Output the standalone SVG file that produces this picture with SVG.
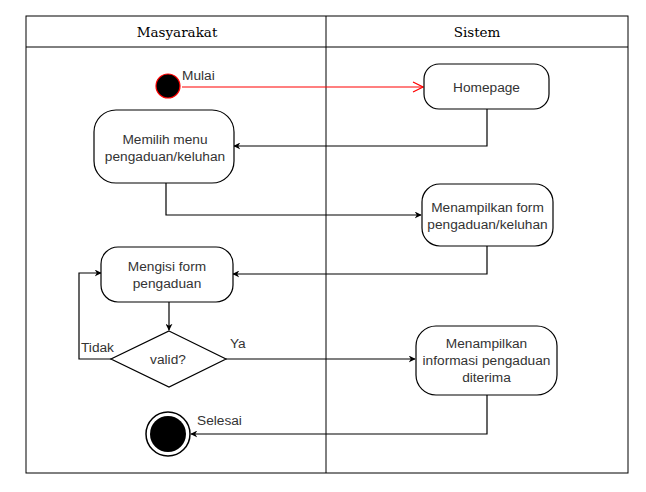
<svg xmlns="http://www.w3.org/2000/svg" width="646" height="492" viewBox="0 0 646 492">
<defs>
<marker id="ab" viewBox="0 0 10 10" refX="9" refY="5" markerWidth="7" markerHeight="7" markerUnits="userSpaceOnUse" orient="auto">
<path d="M0,0 L10,5 L0,10 L3,5 Z" fill="#000"/>
</marker>
<marker id="ao" viewBox="0 0 12 12" refX="11" refY="6" markerWidth="12" markerHeight="12" markerUnits="userSpaceOnUse" orient="auto">
<path d="M1,1 L11,6 L1,11" fill="none" stroke="#ff0000" stroke-width="1.2"/>
</marker>
</defs>
<style>
.frame{fill:none;stroke:#000;stroke-width:1}
.hdr{font-family:"DejaVu Serif","Liberation Serif",serif;font-size:13.5px;fill:#000;text-anchor:middle}
.node{fill:#fff;stroke:#000;stroke-width:1.2}
.t{font-family:"Liberation Sans",Arial,sans-serif;font-size:13.7px;fill:#333;text-anchor:middle}
.lbl{font-family:"Liberation Sans",Arial,sans-serif;font-size:13.7px;fill:#333}
.c{fill:none;stroke:#000;stroke-width:1.2;marker-end:url(#ab)}
</style>
<rect x="0" y="0" width="646" height="492" fill="#fff"/>
<g id="swimlanes">
<rect class="frame" x="26" y="16" width="602" height="457"/>
<line class="frame" x1="26" y1="47" x2="628" y2="47"/>
<line class="frame" x1="326" y1="16" x2="326" y2="473"/>
<text class="hdr" x="177" y="37">Masyarakat</text>
<text class="hdr" x="477" y="37">Sistem</text>
</g>
<g id="connectors">
<line x1="182" y1="87" x2="423" y2="87" stroke="#ff0000" stroke-width="1.2" marker-end="url(#ao)"/>
<polyline class="c" points="487,109 487,146 234,146"/>
<polyline class="c" points="166,183 166,215 421,215"/>
<polyline class="c" points="487,246 487,274 233,274"/>
<polyline class="c" points="169,302 169,330"/>
<polyline class="c" points="111,359 79,359 79,273 101,273"/>
<polyline class="c" points="226,359 415,359"/>
<polyline class="c" points="487,395 487,434 191,434"/>
</g>
<g id="start">
<circle cx="168" cy="86" r="12" fill="#000" stroke="#ff0000" stroke-width="1.2"/>
<text class="lbl" x="182" y="80">Mulai</text>
</g>
<g id="homepage">
<rect class="node" x="424" y="64" width="125" height="45" rx="15"/>
<text class="t" x="486.5" y="91.5">Homepage</text>
</g>
<g id="memilih">
<rect class="node" x="94" y="110" width="140" height="73" rx="22"/>
<text class="t" x="165" y="144">Memilih menu</text>
<text class="t" x="165" y="161">pengaduan/keluhan</text>
</g>
<g id="form">
<rect class="node" x="422" y="184" width="131" height="62" rx="18"/>
<text class="t" x="487.5" y="212">Menampilkan form</text>
<text class="t" x="487.5" y="229">pengaduan/keluhan</text>
</g>
<g id="mengisi">
<rect class="node" x="101" y="247" width="132" height="55" rx="17"/>
<text class="t" x="167" y="271">Mengisi form</text>
<text class="t" x="167" y="288">pengaduan</text>
</g>
<g id="decision">
<polygon class="node" points="169,331 226,359 169,387 111,359"/>
<text class="t" x="168" y="364">valid?</text>
<text class="lbl" x="81" y="352">Tidak</text>
<text class="lbl" x="230" y="348">Ya</text>
</g>
<g id="informasi">
<rect class="node" x="416" y="326" width="141" height="69" rx="20"/>
<text class="t" x="486.5" y="348">Menampilkan</text>
<text class="t" x="486.5" y="365">informasi pengaduan</text>
<text class="t" x="486.5" y="381.5">diterima</text>
</g>
<g id="end">
<circle cx="168" cy="434" r="22" fill="#fff" stroke="#000" stroke-width="1.5"/>
<circle cx="168" cy="434" r="18" fill="#000"/>
<text class="lbl" x="197" y="425">Selesai</text>
</g>
</svg>
